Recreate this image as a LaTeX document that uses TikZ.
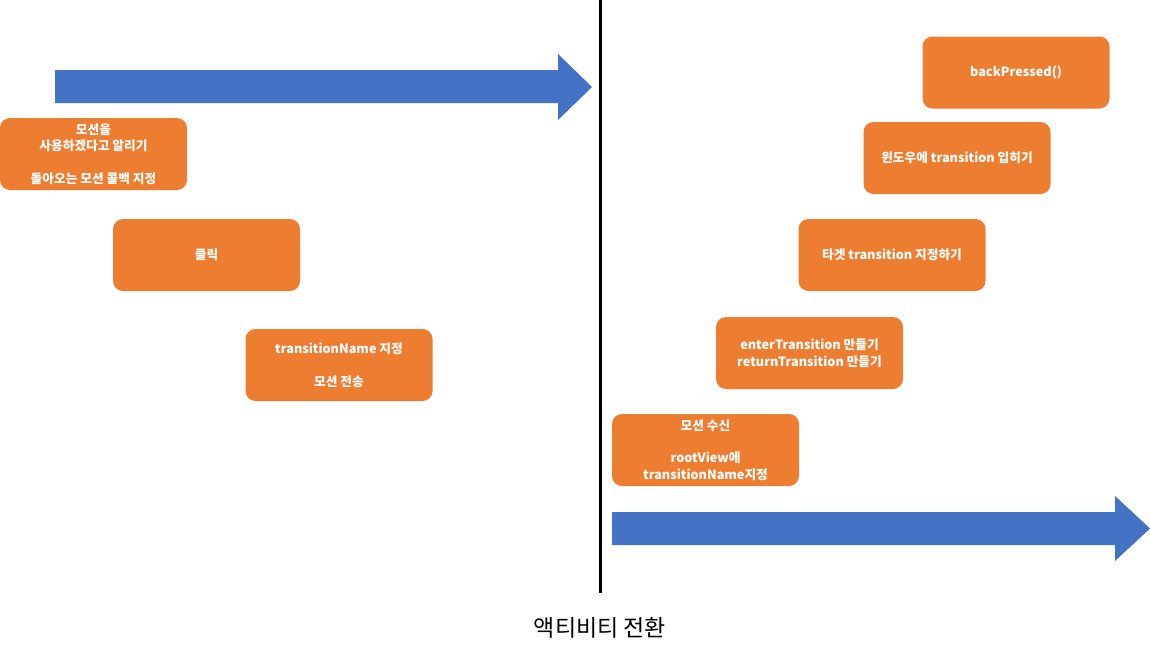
\documentclass[tikz,border=0pt]{standalone}
\usepackage{fontspec}
\setmainfont{Noto Sans CJK KR}
\definecolor{boxorange}{HTML}{ED7D31}
\definecolor{arrowblue}{HTML}{4472C4}
\begin{document}
\begin{tikzpicture}[x=1pt,y=-1pt,
  stepbox/.style={fill=boxorange,draw=none,rounded corners=10pt,minimum width=187pt,minimum height=72pt,
    text=white,align=center,inner sep=2pt,font=\fontsize{12.7}{16.5}\selectfont\bfseries},
  bigarrow/.style={fill=arrowblue,draw=none}]
\useasboundingbox (0,0) rectangle (1150,659);
\fill[white] (0,0) rectangle (1150,659);
% arrows
\fill[bigarrow] (55,70) -- (558,70) -- (558,54) -- (592,87) -- (558,120) -- (558,103) -- (55,103) -- cycle;
\fill[bigarrow] (612,512) -- (1115,512) -- (1115,496) -- (1150,528.5) -- (1115,561) -- (1115,545) -- (612,545) -- cycle;
% divider
\coordinate (top) at (600,0);
\coordinate (bot) at (600,593);
\draw[line width=3pt,black] (top) -- (bot);
% boxes
\node[stepbox] (b1) at (93.5,154) {모션을\\사용하겠다고 알리기\\[16pt]돌아오는 모션 콜백 지정};
\node[stepbox] (b2) at (206.5,255) {클릭};
\node[stepbox] (b3) at (339,365) {transitionName 지정\\[16pt]모션 전송};
\node[stepbox] (b4) at (1016,72.5) {backPressed()};
\node[stepbox] (b5) at (957,158) {윈도우에 transition 입히기};
\node[stepbox] (b6) at (892,255) {타겟 transition 지정하기};
\node[stepbox] (b7) at (809.5,353) {enterTransition 만들기\\returnTransition 만들기};
\node[stepbox] (b8) at (705.5,450) {모션 수신\\[16pt]rootView에\\transitionName지정};
% title
\node[font=\fontsize{23}{27}\selectfont] (title) at (600,628) {액티비티 전환};
\end{tikzpicture}
\end{document}
